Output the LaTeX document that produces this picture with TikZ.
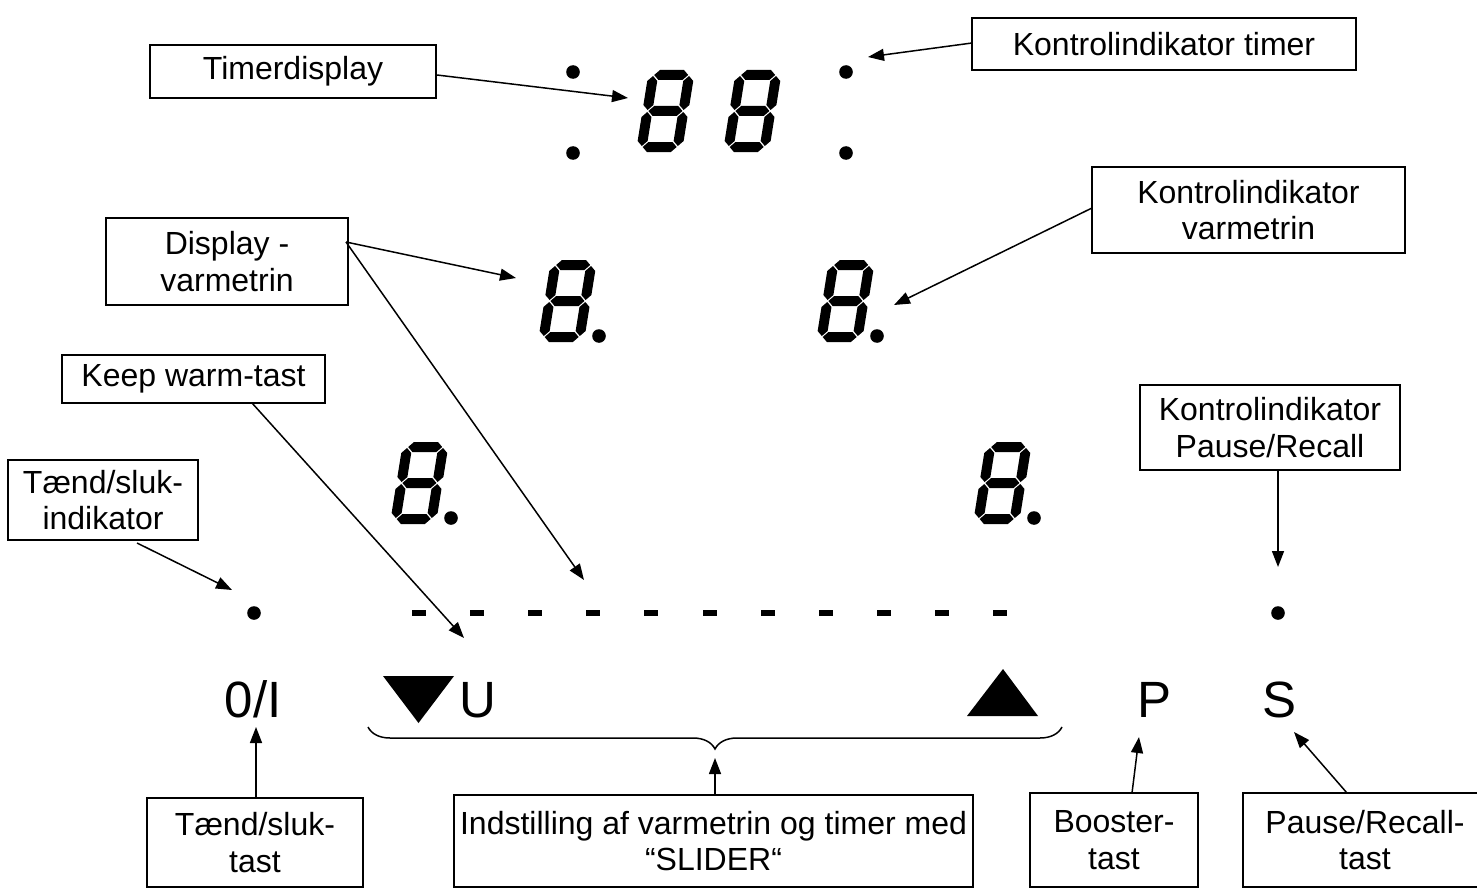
\documentclass[tikz,border=0pt]{standalone}
\usepackage{fontspec}
\setmainfont{Liberation Sans}
\usetikzlibrary{arrows.meta,decorations.pathreplacing}

% digit: width 46, height 82, segment thickness 10, half gap 1
\newcommand{\hsegm}[1]{\fill (6,#1) -- ++(5,-5) -- ++(24,0) -- ++(5,5) -- ++(-5,5) -- ++(-24,0) -- cycle;}
\newcommand{\vsegm}[2]{\fill (#1,#2) -- ++(5,5) -- ++(0,24) -- ++(-5,5) -- ++(-5,-5) -- ++(0,-24) -- cycle;}
\newcommand{\segdigit}[2]{%
  \begin{scope}[shift={(#1,#2)}, xslant=0.16]
    \hsegm{5}\hsegm{41}\hsegm{77}
    \vsegm{5}{6}\vsegm{41}{6}
    \vsegm{5}{42}\vsegm{41}{42}
  \end{scope}}

\begin{document}
\begin{tikzpicture}[x=0.5pt,y=-0.5pt,
  lbl/.style={draw, line width=0.7pt, inner sep=0pt, align=center,
    font=\fontsize{16}{18.4}\selectfont},
  arr/.style={line width=0.75pt, -{Triangle[length=8pt,width=6pt]}},
  dotmark/.style={circle, fill, inner sep=0pt, minimum size=6.8pt},
  dashbar/.style={rectangle, fill, inner sep=0pt, minimum width=7pt, minimum height=3pt},
  big/.style={font=\fontsize{25.5}{30}\selectfont, inner sep=0pt, anchor=base}]
\useasboundingbox (0,0) rectangle (1477,888);

% label boxes
\node[lbl, minimum width=143pt, minimum height=26.5pt] (tdisp) at (293,71.5) {Timerdisplay};
\node[lbl, minimum width=192pt, minimum height=26pt] (kti) at (1164,44) {Kontrolindikator timer};
\node[lbl, minimum width=156.5pt, minimum height=43pt] (kvarm) at (1248.5,210) {Kontrolindikator\\varmetrin};
\node[lbl, minimum width=121pt, minimum height=43.5pt] (disp) at (227,261.5) {Display -\\varmetrin};
\node[lbl, minimum width=131.5pt, minimum height=24pt] (keep) at (193.5,379) {Keep warm-tast};
\node[lbl, minimum width=95pt, minimum height=40pt] (tsi) at (103,500) {Tænd/sluk-\\indikator};
\node[lbl, minimum width=130pt, minimum height=42.5pt] (kpr) at (1270,427.5) {Kontrolindikator\\Pause/Recall};
\node[lbl, minimum width=108pt, minimum height=44.5pt] (tst) at (255,842.5) {Tænd/sluk-\\tast};
\node[lbl, minimum width=259.5pt, minimum height=46pt] (inds) at (713.5,841) {Indstilling af varmetrin og timer med\\“SLIDER“};
\node[lbl, minimum width=84pt, minimum height=47pt] (boost) at (1114,840) {Booster-\\tast};
\node[lbl, minimum width=122pt, minimum height=47pt] (prt) at (1365,840) {Pause/Recall-\\tast};

% seven segment digits
\segdigit{649}{70}
\segdigit{736}{70}
\segdigit{551}{260}
\segdigit{829}{260}
\segdigit{403}{442}
\segdigit{986}{442}

% dots
\node[dotmark] (tl1) at (573,72) {};
\node[dotmark] (tl2) at (573,153) {};
\node[dotmark] (tr1) at (846,72) {};
\node[dotmark] (tr2) at (846,153) {};
\node[dotmark] (dp1) at (599,336) {};
\node[dotmark] (dp2) at (877,336) {};
\node[dotmark] (dp3) at (451,518) {};
\node[dotmark] (dp4) at (1034,518) {};
\node[dotmark] (ondot) at (254,613) {};
\node[dotmark] (prdot) at (1278,613) {};

% slider dashes
\foreach \i in {0,...,10} \node[dashbar] (d\i) at ({419+58.1*\i},613) {};

% key symbols
\node[big] (onoff) at (253,717) {0/I};
\node[big] (ukey) at (478,717) {U};
\node[big] (pkey) at (1154,717) {P};
\node[big] (skey) at (1279,717) {S};
\fill (383,676) -- (454,676) -- (418.5,723) -- cycle;
\fill (1003,669) -- (1038,716) -- (967,716) -- cycle;

% brace
\coordinate (braceL) at (368,727);
\coordinate (braceR) at (1062,727);
\draw[line width=0.75pt, decorate, decoration={brace, mirror, amplitude=11pt}] (braceL) -- (braceR);

% connector ends
\coordinate (tdS) at (437,75);   \coordinate (tdE) at (628,98);
\coordinate (ktS) at (972,43);   \coordinate (ktE) at (868,57);
\coordinate (dvS) at (346,242);  \coordinate (dvE1) at (516,278); \coordinate (dvE2) at (584,580);
\coordinate (kvS) at (1092,208); \coordinate (kvE) at (894,305);
\coordinate (kwS) at (252,403);  \coordinate (kwE) at (464,638);
\coordinate (tiS) at (137,543);  \coordinate (tiE) at (232,590);
\coordinate (kpS) at (1278,470); \coordinate (kpE) at (1278,567);
\coordinate (ttS) at (256,798);  \coordinate (ttE) at (256,727);
\coordinate (inS) at (715,795);  \coordinate (inE) at (715,758);
\coordinate (boS) at (1132,793); \coordinate (boE) at (1139,737);
\coordinate (prS) at (1347,793); \coordinate (prE) at (1294,732);

\draw[arr] (tdS) -- (tdE);
\draw[arr] (ktS) -- (ktE);
\draw[arr] (dvS) -- (dvE1);
\draw[arr] (dvS) -- (dvE2);
\draw[arr] (kvS) -- (kvE);
\draw[arr] (kwS) -- (kwE);
\draw[arr] (tiS) -- (tiE);
\draw[arr] (kpS) -- (kpE);
\draw[arr] (ttS) -- (ttE);
\draw[arr] (inS) -- (inE);
\draw[arr] (boS) -- (boE);
\draw[arr] (prS) -- (prE);
\end{tikzpicture}
\end{document}
